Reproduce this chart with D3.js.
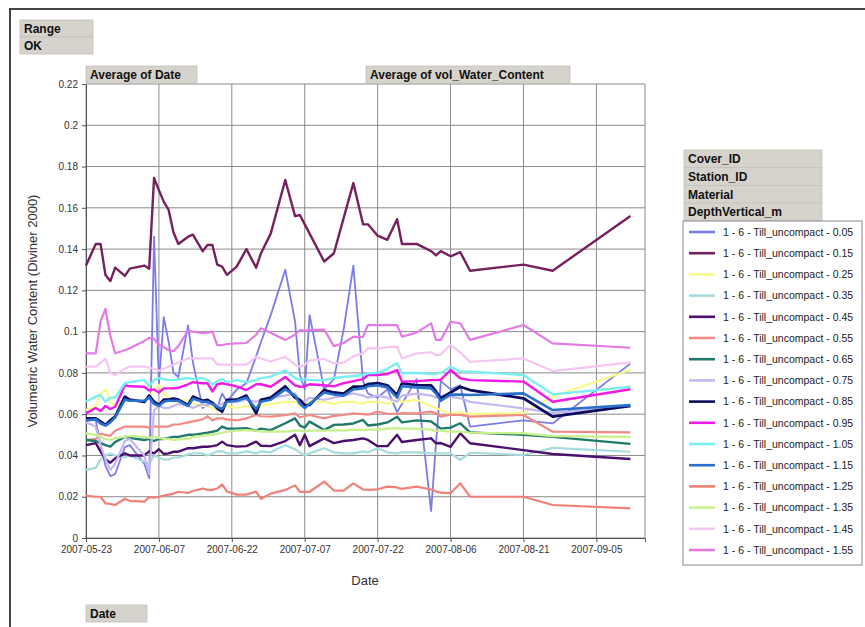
<!DOCTYPE html>
<html><head><meta charset="utf-8">
<script src="https://cdn.jsdelivr.net/npm/d3@7"></script>
<style>
body{margin:0;background:#fff;}
svg{display:block;font-family:"Liberation Sans",Arial,sans-serif;}
</style></head>
<body><svg id="c" width="865" height="627"></svg>
<script>
const dates = ["2007-05-23","2007-05-25","2007-05-26","2007-05-27","2007-05-28","2007-05-29","2007-05-31","2007-06-01","2007-06-04","2007-06-05","2007-06-06","2007-06-07","2007-06-08","2007-06-09","2007-06-10","2007-06-11","2007-06-13","2007-06-14","2007-06-16","2007-06-17","2007-06-18","2007-06-19","2007-06-20","2007-06-21","2007-06-23","2007-06-25","2007-06-27","2007-06-28","2007-06-30","2007-07-03","2007-07-05","2007-07-06","2007-07-07","2007-07-08","2007-07-11","2007-07-13","2007-07-15","2007-07-17","2007-07-19","2007-07-20","2007-07-22","2007-07-24","2007-07-26","2007-07-27","2007-07-30","2007-08-02","2007-08-03","2007-08-04","2007-08-06","2007-08-08","2007-08-10","2007-08-21","2007-08-27","2007-09-12"];
const seriesNames = ["1 - 6 - Till_uncompact - 0.05","1 - 6 - Till_uncompact - 0.15","1 - 6 - Till_uncompact - 0.25","1 - 6 - Till_uncompact - 0.35","1 - 6 - Till_uncompact - 0.45","1 - 6 - Till_uncompact - 0.55","1 - 6 - Till_uncompact - 0.65","1 - 6 - Till_uncompact - 0.75","1 - 6 - Till_uncompact - 0.85","1 - 6 - Till_uncompact - 0.95","1 - 6 - Till_uncompact - 1.05","1 - 6 - Till_uncompact - 1.15","1 - 6 - Till_uncompact - 1.25","1 - 6 - Till_uncompact - 1.35","1 - 6 - Till_uncompact - 1.45","1 - 6 - Till_uncompact - 1.55"];
const seriesColors = ["#7b7bea","#76215e","#fafa8c","#a6dcdc","#4b0f6e","#f28a86","#1f7a6b","#c4b8f2","#0c0c5c","#f01ae6","#78f0f0","#2a70cc","#f08078","#c8f08c","#f6c6f2","#e47ae4"];
const seriesWidths = [1.8,2.4,2.2,2.2,2.4,2.2,2.4,2.2,2.8,2.4,2.4,2.6,2.2,2.2,2.2,2.2];

const v005 = [.058,.057,.045,.035,.030,.031,.044,.045,.036,.029,.146,.075,.107,.095,.080,.078,.103,.085,.063,.065,.065,.063,.070,.066,.072,.075,.088,.095,.108,.130,.105,.079,.072,.108,.072,.077,.101,.132,.076,.070,.068,.072,.061,.065,.077,.013,.046,.076,.072,.074,.054,.057,.0555,.0845];
const v015 = [.132,.1425,.1425,.1275,.1245,.131,.127,.1305,.132,.1305,.1745,.1685,.163,.159,.148,.1425,.146,.147,.139,.142,.142,.1325,.1315,.1275,.1315,.140,.131,.138,.1475,.1735,.156,.1565,.152,.1475,.134,.138,.155,.172,.152,.152,.1465,.1445,.1545,.1425,.1425,.139,.137,.139,.1365,.1385,.1295,.1325,.1295,.156];
const v025 = [.062,.064,.070,.072,.066,.064,.066,.067,.066,.068,.072,.074,.070,.068,.066,.066,.067,.065,.064,.064,.063,.062,.063,.064,.063,.064,.063,.064,.065,.066,.066,.064,.065,.066,.066,.065,.066,.066,.065,.066,.066,.065,.067,.066,.067,.064,.063,.062,.060,.061,.060,.0605,.0685,.0815];
const v035 = [.033,.034,.038,.040,.041,.040,.039,.040,.037,.036,.040,.039,.038,.038,.039,.039,.0405,.041,.041,.040,.041,.042,.042,.041,.041,.042,.041,.042,.0415,.045,.043,.0415,.040,.041,.0435,.0415,.041,.041,.042,.0415,.0435,.0415,.041,.0415,.0415,.041,.041,.041,.041,.0378,.0413,.0402,.0437,.0418];
const v045 = [.045,.046,.042,.038,.0365,.0386,.041,.040,.040,.042,.041,.043,.0407,.041,.0418,.0418,.0435,.0435,.0442,.0442,.0445,.045,.0467,.045,.0443,.0445,.0467,.0447,.0445,.047,.050,.045,.050,.0445,.0483,.046,.047,.0475,.0483,.0475,.0445,.0445,.050,.0465,.0475,.0483,.0459,.046,.0442,.0507,.0459,.0426,.0407,.0383];
const v055 = [.0475,.048,.0505,.050,.0495,.052,.054,.054,.054,.0535,.054,.054,.054,.054,.055,.055,.056,.0565,.0575,.059,.057,.058,.058,.0575,.057,.058,.0596,.059,.0588,.0595,.0604,.0585,.059,.0596,.058,.0592,.0596,.0604,.060,.0598,.0612,.0602,.0602,.0605,.0604,.0612,.0605,.0588,.0598,.0596,.0588,.0596,.0515,.0512];
const v065 = [.0475,.047,.046,.045,.0443,.0465,.049,.0485,.0475,.048,.047,.048,.048,.0485,.049,.049,.050,.050,.0507,.051,.0515,.052,.054,.053,.053,.0532,.052,.053,.0523,.0556,.058,.0545,.0535,.0564,.0523,.0548,.055,.0555,.0572,.0545,.055,.056,.0588,.056,.057,.0565,.0548,.053,.0535,.0556,.0512,.050,.049,.0456];
const v075 = [.056,.054,.045,.038,.033,.036,.047,.048,.040,.031,.062,.064,.063,.063,.064,.065,.064,.063,.065,.064,.066,.064,.065,.066,.066,.067,.066,.067,.068,.069,.070,.067,.066,.068,.067,.068,.069,.070,.069,.068,.069,.068,.066,.069,.070,.069,.068,.069,.0685,.0677,.066,.0628,.0606,.0636];
const v085 = [.058,.058,.0564,.0548,.057,.0588,.0685,.067,.066,.069,.066,.0645,.067,.067,.0675,.067,.0645,.0685,.0665,.0669,.0655,.0628,.0612,.0669,.067,.069,.0604,.0669,.068,.0735,.068,.0669,.0644,.0644,.0717,.0705,.070,.0733,.0735,.0745,.075,.074,.0693,.075,.074,.074,.071,.0677,.0705,.0733,.0717,.0677,.0588,.064];
const v095 = [.0604,.063,.0615,.064,.0625,.0636,.074,.0735,.0733,.0715,.072,.0705,.0725,.0725,.0725,.0728,.0745,.0755,.075,.075,.071,.0745,.075,.0745,.0735,.0717,.0745,.0745,.0733,.078,.074,.0733,.0735,.0745,.074,.0735,.075,.076,.077,.079,.079,.0795,.0814,.0758,.076,.0765,.0765,.0767,.0814,.0774,.0765,.0758,.066,.0721];
const v105 = [.066,.0685,.0693,.066,.068,.068,.075,.0755,.0766,.0735,.0765,.0775,.077,.0765,.0765,.077,.0775,.077,.0775,.0765,.0745,.076,.077,.0755,.0765,.0755,.0765,.0775,.0782,.0812,.0775,.0766,.077,.0765,.0765,.0775,.078,.0785,.079,.0798,.080,.082,.0847,.0798,.080,.0795,.0795,.080,.083,.0806,.0806,.079,.0696,.0733];
const v115 = [.057,.0575,.0555,.0545,.056,.0585,.067,.0665,.0665,.068,.065,.064,.066,.0665,.0665,.0665,.064,.0675,.066,.066,.065,.0635,.0625,.066,.0665,.068,.0625,.066,.067,.072,.069,.065,.063,.065,.0705,.0695,.069,.072,.0725,.0735,.074,.073,.068,.0735,.073,.0725,.070,.0665,.0695,.0695,.0693,.0701,.062,.0644];
const v125 = [.0205,.020,.020,.0168,.0165,.016,.019,.018,.0176,.0198,.0195,.020,.0205,.021,.0215,.0224,.0218,.0228,.024,.0233,.0233,.024,.026,.0225,.021,.021,.0225,.019,.0215,.0233,.0255,.0224,.0224,.0224,.0273,.023,.023,.0265,.0235,.0233,.0236,.0249,.0245,.0238,.0249,.0235,.0225,.022,.0217,.0265,.020,.020,.016,.0144];
const v135 = [.0507,.050,.049,.048,.0475,.0485,.049,.0495,.049,.0485,.049,.0485,.048,.048,.0475,.0478,.048,.049,.0495,.050,.050,.0505,.051,.0515,.052,.0523,.052,.0515,.0515,.0515,.052,.052,.0515,.052,.052,.0523,.052,.0525,.0523,.0525,.0525,.053,.0532,.053,.053,.0525,.052,.052,.0515,.0515,.051,.0507,.0494,.049];
const v145 = [.083,.083,.085,.087,.080,.079,.082,.083,.083,.0825,.082,.081,.082,.083,.084,.085,.087,.087,.087,.087,.087,.084,.084,.084,.084,.084,.0878,.087,.0855,.0878,.084,.083,.084,.086,.0868,.0846,.085,.088,.0895,.092,.0918,.0925,.0927,.087,.0895,.090,.0885,.089,.0935,.090,.0854,.087,.0809,.0851];
const v155 = [.0895,.0895,.105,.111,.098,.0895,.091,.092,.0955,.097,.0965,.0935,.0925,.091,.0905,.093,.1005,.100,.0992,.0995,.100,.0935,.0935,.094,.0943,.0945,.0985,.1016,.0995,.096,.0985,.1008,.1005,.1008,.101,.093,.0945,.0975,.0975,.1032,.1032,.1032,.1032,.0976,.0995,.104,.096,.096,.1048,.104,.096,.1032,.0943,.0922];
const seriesValues = [v005,v015,v025,v035,v045,v055,v065,v075,v085,v095,v105,v115,v125,v135,v145,v155];

const yTicks = [0,0.02,0.04,0.06,0.08,0.1,0.12,0.14,0.16,0.18,0.2,0.22];
const xTickLabels = ["2007-05-23","2007-06-07","2007-06-22","2007-07-07","2007-07-22","2007-08-06","2007-08-21","2007-09-05"];
const xDomain = ["2007-05-23","2007-09-15"];

const parse = d3.utcParse("%Y-%m-%d");
const svg = d3.select("#c");
const L = 86, R = 645, T = 84, B = 538;
const x = d3.scaleUtc().domain(xDomain.map(parse)).range([L, R]);
const y = d3.scaleLinear().domain([0, 0.22]).range([B, T]);

// outer frame
svg.append("path").attr("d","M10,627 L10,9 L865,9").attr("fill","none").attr("stroke","#444").attr("stroke-width",2);

function box(x0,y0,w,h,label){
  svg.append("rect").attr("x",x0).attr("y",y0).attr("width",w).attr("height",h).attr("fill","#d6d3cc").attr("stroke","#c4c1ba").attr("stroke-width",0.8);
  svg.append("text").attr("x",x0+4).attr("y",y0+h/2+4.5).attr("font-size",12).attr("font-weight","bold").attr("fill","#111").text(label);
}
box(20,20,73,17,"Range");
box(20,37,73,17,"OK");

// gridlines
const g = svg.append("g");
g.selectAll(".hg").data(yTicks).join("line").attr("x1",L).attr("x2",R).attr("y1",d=>y(d)).attr("y2",d=>y(d)).attr("stroke","#8a8a8a").attr("stroke-width",1);
g.selectAll(".vg").data(xTickLabels.map(parse)).join("line").attr("x1",d=>x(d)).attr("x2",d=>x(d)).attr("y1",T).attr("y2",B).attr("stroke","#8a8a8a").attr("stroke-width",1);
g.append("line").attr("x1",R).attr("x2",R).attr("y1",T).attr("y2",B).attr("stroke","#8a8a8a");

// axes
const yAxis = d3.axisLeft(y).tickValues(yTicks).tickSize(4).tickPadding(4).tickFormat(d=>d===0?"0":String(+d.toFixed(2)));
const ya = svg.append("g").attr("transform",`translate(${L},0)`).call(yAxis);
ya.selectAll("text").attr("font-size",10).attr("fill","#333").attr("font-family","Liberation Sans, Arial");
ya.select(".domain").attr("stroke","#555");
ya.selectAll(".tick line").attr("stroke","#555");
const xAxis = d3.axisBottom(x).tickValues(xTickLabels.map(parse)).tickSize(4).tickPadding(4).tickFormat(d3.utcFormat("%Y-%m-%d"));
const xa = svg.append("g").attr("transform",`translate(0,${B})`).call(xAxis);
xa.selectAll("text").attr("font-size",10).attr("fill","#333").attr("font-family","Liberation Sans, Arial");
xa.select(".domain").attr("stroke","#555");
xa.selectAll(".tick line").attr("stroke","#555");

// lines
const pd = dates.map(parse);
const line = d3.line().x((d,i)=>x(pd[i])).y(d=>y(d));
seriesValues.forEach((vals,k)=>{
  svg.append("path").datum(vals).attr("d",line).attr("fill","none")
    .attr("stroke",seriesColors[k]).attr("stroke-width",seriesWidths[k]).attr("stroke-linejoin","round");
});

// field buttons
box(86,66,111,17,"Average of Date");
box(366,66,204,17,"Average of vol_Water_Content");
box(86,605,61,17,"Date");

// titles
svg.append("text").attr("transform","translate(37,311) rotate(-90)").attr("text-anchor","middle").attr("font-size",13).attr("fill","#333").text("Volumetric Water Content (Diviner 2000)");
svg.append("text").attr("x",365).attr("y",585).attr("text-anchor","middle").attr("font-size",13).attr("fill","#333").text("Date");

// legend headers
["Cover_ID","Station_ID","Material","DepthVertical_m"].forEach((t,i)=>box(684,150+i*17.7,138,17.7,t));
// legend box
const lg = svg.append("g");
lg.append("rect").attr("x",683).attr("y",221).attr("width",179).attr("height",344).attr("fill","#fff").attr("stroke","#888");
seriesNames.forEach((n,i)=>{
  const yy = 232 + i*21.2;
  lg.append("line").attr("x1",689).attr("x2",715).attr("y1",yy).attr("y2",yy).attr("stroke",seriesColors[i]).attr("stroke-width",2.6);
  lg.append("text").attr("x",723).attr("y",yy+3.8).attr("font-size",10.5).attr("fill","#222").text(n);
});
</script>
</body></html>
